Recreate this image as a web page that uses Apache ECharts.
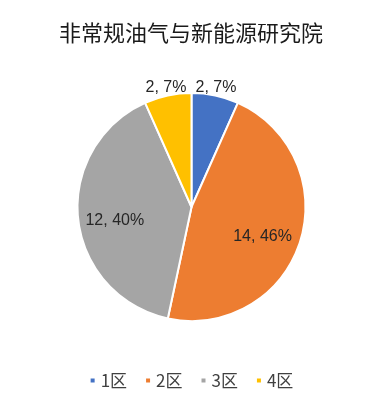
<!DOCTYPE html>
<html><head><meta charset="utf-8">
<script src="https://cdn.jsdelivr.net/npm/echarts@6/dist/echarts.min.js"></script>
<style>html,body{margin:0;padding:0;background:#fff}#c{width:382px;height:408px}</style>
</head><body><div id="c"></div>
<script>
const titleText = '非常规油气与新能源研究院';
const categories = ['1区', '2区', '3区', '4区'];
const values = [2, 14, 12, 2];
const percentLabels = ['7%', '46%', '40%', '7%'];
const colors = ['#4472C4', '#ED7D31', '#A5A5A5', '#FFC000'];
const labelOffsets = [[12, -61], [14, 11], [-17, 7], [-13, -61]];

const chart = echarts.init(document.getElementById('c'));
chart.setOption({
  animation: false,
  title: {
    text: titleText, left: 'center', top: 17,
    textStyle: {fontFamily: 'Noto Sans CJK SC', fontSize: 22, fontWeight: 'normal', color: '#1a1a1a'}
  },
  legend: {
    top: 367, left: 'center', itemWidth: 6, itemHeight: 6, itemGap: 17, icon: 'rect',
    textStyle: {fontFamily: 'Noto Sans CJK SC', fontSize: 17, color: '#404040'},
    data: categories
  },
  color: colors,
  series: [{
    type: 'pie',
    center: [191.5, 207],
    radius: 114,
    startAngle: 90,
    clockwise: true,
    itemStyle: {borderColor: '#fff', borderWidth: 2},
    label: {
      position: 'inside', fontFamily: 'Liberation Sans', fontSize: 16, color: '#262626',
      formatter: p => p.value + ', ' + percentLabels[p.dataIndex]
    },
    emphasis: {disabled: true},
    data: categories.map((c, i) => ({
      name: c, value: values[i],
      label: {offset: labelOffsets[i]}
    }))
  }]
});
</script></body></html>
